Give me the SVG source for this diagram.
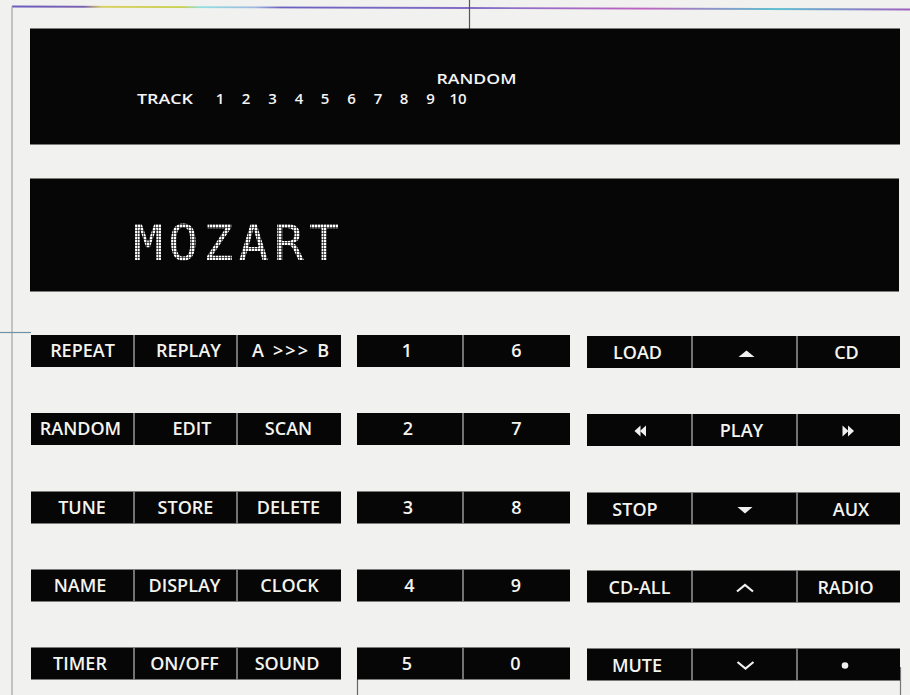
<svg xmlns="http://www.w3.org/2000/svg" width="910" height="695" viewBox="0 0 910 695">
  <defs>
    <linearGradient id="topline" x1="0" y1="0" x2="1" y2="0">
      <stop offset="0" stop-color="#6a5cc0"/>
      <stop offset="0.08" stop-color="#7a60b0"/>
      <stop offset="0.1" stop-color="#d8d060"/>
      <stop offset="0.19" stop-color="#c8d050"/>
      <stop offset="0.21" stop-color="#90e0e0"/>
      <stop offset="0.27" stop-color="#a0b8e0"/>
      <stop offset="0.3" stop-color="#6a60c0"/>
      <stop offset="0.55" stop-color="#8a70c8"/>
      <stop offset="0.7" stop-color="#c060c0"/>
      <stop offset="0.85" stop-color="#60c0d0"/>
      <stop offset="1" stop-color="#a060c0"/>
    </linearGradient>
    <pattern id="dots" x="0" y="0" width="3" height="3" patternUnits="userSpaceOnUse">
      <rect x="0" y="0" width="2.4" height="2.4" fill="#ffffff"/>
    </pattern>
  </defs>
  <style>
    .panel { fill: #060607; }
    .cell { fill: #060607; }
    .sep { stroke: #8e8e8e; stroke-width: 1.6; }
    .lbl { font-family: "Open Sans", "Liberation Sans", sans-serif; font-weight: 600; font-size: 18px; fill: #f4f4ef; text-anchor: middle; }
    .disp { font-family: "Open Sans", "Liberation Sans", sans-serif; font-weight: 600; font-size: 15px; fill: #f4f4f4; text-anchor: middle; }
    .matrix { font-family: "DejaVu Sans Mono", "Liberation Mono", monospace; font-size: 50px; fill: url(#dots); }
    .sym { fill: #f0f0f0; }
    .chev { fill: none; stroke: #f0f0f0; stroke-width: 2.2; stroke-linejoin: miter; }
  </style>

  <rect x="0" y="0" width="910" height="695" fill="#f1f1ef"/>

  <g id="rules">
    <polyline points="12,6.5 469,8 910,9.5" fill="none" stroke="url(#topline)" stroke-width="1.8"/>
    <line x1="12" y1="6.5" x2="12" y2="695" stroke="#a4a4a4" stroke-width="1.2"/>
    <line x1="469.5" y1="0" x2="469.5" y2="29" stroke="#555" stroke-width="1.2"/>
    <line x1="0" y1="332.5" x2="31" y2="332.5" stroke="#7090a8" stroke-width="1.2"/>
    <line x1="357.5" y1="679" x2="357.5" y2="695" stroke="#666" stroke-width="1.2"/>
    <line x1="900.5" y1="667" x2="900.5" y2="695" stroke="#777" stroke-width="1.2"/>
  </g>

  <g id="display-track">
    <rect class="panel" x="30" y="28.5" width="870" height="116"/>
    <text class="disp" x="476.5" y="84" textLength="80" lengthAdjust="spacingAndGlyphs">RANDOM</text>
    <text class="disp" x="165" y="104" textLength="56" lengthAdjust="spacingAndGlyphs">TRACK</text>
    <text class="disp" x="220" y="104">1</text>
    <text class="disp" x="246" y="104">2</text>
    <text class="disp" x="272.5" y="104">3</text>
    <text class="disp" x="299" y="104">4</text>
    <text class="disp" x="325" y="104">5</text>
    <text class="disp" x="351.5" y="104">6</text>
    <text class="disp" x="378" y="104">7</text>
    <text class="disp" x="404" y="104">8</text>
    <text class="disp" x="430.5" y="104">9</text>
    <text class="disp" x="458" y="104">10</text>
  </g>

  <g id="display-name">
    <rect class="panel" x="30" y="178.5" width="869" height="113"/>
    <text class="matrix" x="133" y="260" textLength="206" lengthAdjust="spacing">MOZART</text>
  </g>

  <!-- Left block -->
  <g id="row1-left">
    <rect class="cell" x="31" y="335" width="310" height="32"/>
    <line class="sep" x1="134" y1="335" x2="134" y2="367"/>
    <line class="sep" x1="237" y1="335" x2="237" y2="367"/>
    <text class="lbl" x="82.5" y="357">REPEAT</text>
    <text class="lbl" x="188.5" y="357">REPLAY</text>
    <text class="lbl" x="290.5" y="357" textLength="77" lengthAdjust="spacing">A &gt;&gt;&gt; B</text>
  </g>
  <g id="row2-left">
    <rect class="cell" x="31" y="413" width="310" height="32"/>
    <line class="sep" x1="134" y1="413" x2="134" y2="445"/>
    <line class="sep" x1="237" y1="413" x2="237" y2="445"/>
    <text class="lbl" x="80.5" y="435">RANDOM</text>
    <text class="lbl" x="192" y="435">EDIT</text>
    <text class="lbl" x="288.5" y="435">SCAN</text>
  </g>
  <g id="row3-left">
    <rect class="cell" x="31" y="491.5" width="310" height="32"/>
    <line class="sep" x1="134" y1="491.5" x2="134" y2="523.5"/>
    <line class="sep" x1="237" y1="491.5" x2="237" y2="523.5"/>
    <text class="lbl" x="82" y="513.5">TUNE</text>
    <text class="lbl" x="185.5" y="513.5">STORE</text>
    <text class="lbl" x="288.5" y="513.5">DELETE</text>
  </g>
  <g id="row4-left">
    <rect class="cell" x="31" y="569.5" width="310" height="32"/>
    <line class="sep" x1="134" y1="569.5" x2="134" y2="601.5"/>
    <line class="sep" x1="237" y1="569.5" x2="237" y2="601.5"/>
    <text class="lbl" x="80" y="591.5">NAME</text>
    <text class="lbl" x="184.5" y="591.5">DISPLAY</text>
    <text class="lbl" x="289.5" y="591.5">CLOCK</text>
  </g>
  <g id="row5-left">
    <rect class="cell" x="31" y="647.5" width="310" height="32"/>
    <line class="sep" x1="134" y1="647.5" x2="134" y2="679.5"/>
    <line class="sep" x1="237" y1="647.5" x2="237" y2="679.5"/>
    <text class="lbl" x="80" y="669.5">TIMER</text>
    <text class="lbl" x="184.5" y="669.5">ON/OFF</text>
    <text class="lbl" x="287" y="669.5">SOUND</text>
  </g>

  <!-- Number block -->
  <g id="row1-num">
    <rect class="cell" x="357" y="335" width="213" height="32"/>
    <line class="sep" x1="463" y1="335" x2="463" y2="367"/>
    <text class="lbl" x="407" y="357">1</text>
    <text class="lbl" x="516.5" y="357">6</text>
  </g>
  <g id="row2-num">
    <rect class="cell" x="357" y="413" width="213" height="32"/>
    <line class="sep" x1="463" y1="413" x2="463" y2="445"/>
    <text class="lbl" x="408" y="435">2</text>
    <text class="lbl" x="516.5" y="435">7</text>
  </g>
  <g id="row3-num">
    <rect class="cell" x="357" y="491.5" width="213" height="32"/>
    <line class="sep" x1="463" y1="491.5" x2="463" y2="523.5"/>
    <text class="lbl" x="408" y="513.5">3</text>
    <text class="lbl" x="516.5" y="513.5">8</text>
  </g>
  <g id="row4-num">
    <rect class="cell" x="357" y="569.5" width="213" height="32"/>
    <line class="sep" x1="463" y1="569.5" x2="463" y2="601.5"/>
    <text class="lbl" x="409.5" y="591.5">4</text>
    <text class="lbl" x="516" y="591.5">9</text>
  </g>
  <g id="row5-num">
    <rect class="cell" x="357" y="647.5" width="213" height="32"/>
    <line class="sep" x1="463" y1="647.5" x2="463" y2="679.5"/>
    <text class="lbl" x="407" y="669.5">5</text>
    <text class="lbl" x="515.5" y="669.5">0</text>
  </g>

  <!-- Right block -->
  <g id="row1-right">
    <rect class="cell" x="587" y="336" width="313" height="32"/>
    <line class="sep" x1="692" y1="336" x2="692" y2="368"/>
    <line class="sep" x1="797" y1="336" x2="797" y2="368"/>
    <text class="lbl" x="637.5" y="359">LOAD</text>
    <polygon class="sym" points="738.5,357 746.5,350.5 754.5,357"/>
    <text class="lbl" x="846.5" y="359">CD</text>
  </g>
  <g id="row2-right">
    <rect class="cell" x="587" y="414" width="313" height="32"/>
    <line class="sep" x1="692" y1="414" x2="692" y2="446"/>
    <line class="sep" x1="797" y1="414" x2="797" y2="446"/>
    <polygon class="sym" points="634.5,431 640.5,425.5 640.5,436.5"/>
    <polygon class="sym" points="640,431 646,425.5 646,436.5"/>
    <text class="lbl" x="741.5" y="437">PLAY</text>
    <polygon class="sym" points="842.5,425.5 848.5,431 842.5,436.5"/>
    <polygon class="sym" points="848,425.5 854,431 848,436.5"/>
  </g>
  <g id="row3-right">
    <rect class="cell" x="587" y="492.5" width="313" height="32"/>
    <line class="sep" x1="692" y1="492.5" x2="692" y2="524.5"/>
    <line class="sep" x1="797" y1="492.5" x2="797" y2="524.5"/>
    <text class="lbl" x="635" y="515.5">STOP</text>
    <polygon class="sym" points="737.5,507 752.5,507 745,513.5"/>
    <text class="lbl" x="851" y="515.5">AUX</text>
  </g>
  <g id="row4-right">
    <rect class="cell" x="587" y="570.5" width="313" height="32"/>
    <line class="sep" x1="692" y1="570.5" x2="692" y2="602.5"/>
    <line class="sep" x1="797" y1="570.5" x2="797" y2="602.5"/>
    <text class="lbl" x="639.5" y="593.5">CD-ALL</text>
    <polyline class="chev" points="737,591.5 745,585 753,591.5"/>
    <text class="lbl" x="845.5" y="593.5">RADIO</text>
  </g>
  <g id="row5-right">
    <rect class="cell" x="587" y="648.5" width="313" height="32"/>
    <line class="sep" x1="692" y1="648.5" x2="692" y2="680.5"/>
    <line class="sep" x1="797" y1="648.5" x2="797" y2="680.5"/>
    <text class="lbl" x="637" y="671.5">MUTE</text>
    <polyline class="chev" points="737.5,662 745.5,668.5 753.5,662"/>
    <circle class="sym" cx="845" cy="665.5" r="3.3" fill="#e6e6e6"/>
  </g>
</svg>
